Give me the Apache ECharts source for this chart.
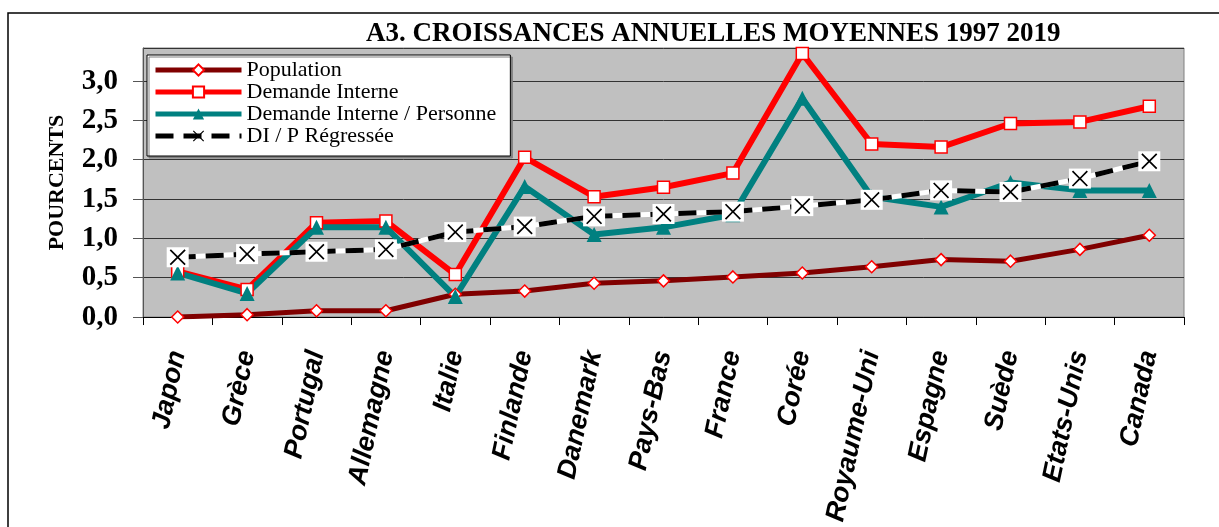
<!DOCTYPE html>
<html>
<head>
<meta charset="utf-8">
<script src="https://cdn.jsdelivr.net/npm/echarts@6/dist/echarts.min.js"></script>
<style>
  html, body { margin: 0; padding: 0; background: #fff; }
  #chart { width: 1219px; height: 527px; }
</style>
</head>
<body>
<div id="chart"></div>
<script>
const countries = ['Japon', 'Grèce', 'Portugal', 'Allemagne', 'Italie', 'Finlande', 'Danemark', 'Pays-Bas',
  'France', 'Corée', 'Royaume-Uni', 'Espagne', 'Suède', 'Etats-Unis', 'Canada']
const population = [0.00, 0.03, 0.08, 0.08, 0.29, 0.33, 0.43, 0.46, 0.51, 0.56, 0.64, 0.73, 0.71, 0.86, 1.04]
const demandeInterne = [0.58, 0.35, 1.20, 1.22, 0.54, 2.03, 1.53, 1.65, 1.83, 3.35, 2.20, 2.16, 2.46, 2.48, 2.68]
const parPersonne = [0.56, 0.30, 1.14, 1.14, 0.26, 1.66, 1.05, 1.14, 1.30, 2.78, 1.53, 1.40, 1.71, 1.61, 1.61]
const regressee = [0.76, 0.80, 0.83, 0.86, 1.08, 1.15, 1.28, 1.31, 1.34, 1.41, 1.49, 1.61, 1.59, 1.76, 1.98]

const serif = '"Liberation Serif", "Times New Roman", serif'
const sans = '"Liberation Sans", Arial, sans-serif'
const crossPath = 'path://M0,1.5 L1.5,0 L10,8.5 L18.5,0 L20,1.5 L11.5,10 L20,18.5 L18.5,20 L10,11.5 L1.5,20 L0,18.5 L8.5,10 Z'

const chart = echarts.init(document.getElementById('chart'))

chart.setOption({
  animation: false,
  backgroundColor: '#fff',
  graphic: [{
    type: 'rect',
    shape: { x: 8, y: 13, width: 1400, height: 700 },
    style: { fill: 'none', stroke: '#000', lineWidth: 1.5 },
    z: -1
  }],
  title: {
    text: 'A3. CROISSANCES ANNUELLES MOYENNES 1997 2019',
    left: 366,
    top: 21,
    padding: 0,
    textStyle: { fontFamily: serif, fontWeight: 'bold', fontSize: 27, color: '#000' }
  },
  legend: {
    orient: 'vertical',
    left: 147,
    top: 55,
    data: ['Population', 'Demande Interne', 'Demande Interne / Personne', 'DI / P Régressée'],
    itemWidth: 86,
    itemHeight: 14,
    itemGap: 0,
    padding: [4, 14, 9, 6],
    backgroundColor: '#fff',
    borderColor: '#000',
    borderWidth: 1,
    shadowColor: '#808080',
    shadowOffsetX: 2,
    shadowOffsetY: 2,
    shadowBlur: 0,
    lineStyle: { width: 5 },
    textStyle: { fontFamily: serif, fontSize: 22, lineHeight: 21, color: '#000' }
  },
  grid: {
    left: 143,
    top: 48,
    width: 1041,
    height: 270,
    show: true,
    backgroundColor: '#c0c0c0',
    borderColor: '#808080',
    borderWidth: 1
  },
  xAxis: {
    type: 'category',
    data: countries,
    boundaryGap: true,
    axisLine: { lineStyle: { color: '#000', width: 1 } },
    axisTick: { show: true, length: 8, lineStyle: { color: '#000' } },
    axisLabel: {
      interval: 0,
      rotate: 78,
      margin: 34,
      fontFamily: sans,
      fontWeight: 'bold',
      fontStyle: 'italic',
      fontSize: 27,
      color: '#000'
    }
  },
  yAxis: {
    type: 'value',
    min: 0,
    max: 3.42,
    interval: 0.5,
    name: 'POURCENTS',
    nameLocation: 'middle',
    nameGap: 75,
    nameTextStyle: { fontFamily: serif, fontWeight: 'bold', fontSize: 22, color: '#000' },
    axisLine: { show: true, lineStyle: { color: '#555', width: 1 } },
    axisTick: { show: true, length: 10, lineStyle: { color: '#555' } },
    axisLabel: {
      margin: 25,
      showMaxLabel: false,
      fontFamily: serif,
      fontWeight: 'bold',
      fontSize: 29,
      color: '#000',
      formatter: v => (v > 3.01 ? '' : v.toFixed(1).replace('.', ','))
    },
    splitLine: { show: true, lineStyle: { color: '#333', width: 1 } }
  },
  series: [
    {
      name: 'Population',
      type: 'line',
      data: population,
      symbol: 'diamond',
      symbolSize: 12,
      lineStyle: { color: '#800000', width: 5 },
      itemStyle: { color: '#fff', borderColor: '#ff0000', borderWidth: 1.5 }
    },
    {
      name: 'Demande Interne',
      type: 'line',
      data: demandeInterne,
      symbol: 'rect',
      symbolSize: 12,
      lineStyle: { color: '#ff0000', width: 6 },
      itemStyle: { color: '#fff', borderColor: '#ff0000', borderWidth: 1.5 }
    },
    {
      name: 'Demande Interne / Personne',
      type: 'line',
      data: parPersonne,
      symbol: 'triangle',
      symbolSize: 15,
      lineStyle: { color: '#008080', width: 6 },
      itemStyle: { color: '#008080' }
    },
    {
      // white backing for the dashed regression line and its boxed markers
      name: 'regressee-fond',
      type: 'line',
      data: regressee,
      symbol: 'rect',
      symbolSize: [22, 20],
      lineStyle: { color: '#fff', width: 5 },
      itemStyle: { color: '#fff' },
      silent: true
    },
    {
      name: 'DI / P Régressée',
      type: 'line',
      data: regressee,
      symbol: crossPath,
      symbolSize: 16,
      lineStyle: { color: '#000', width: 5, type: [18, 10] },
      itemStyle: { color: '#000' }
    }
  ]
})
</script>
</body>
</html>
